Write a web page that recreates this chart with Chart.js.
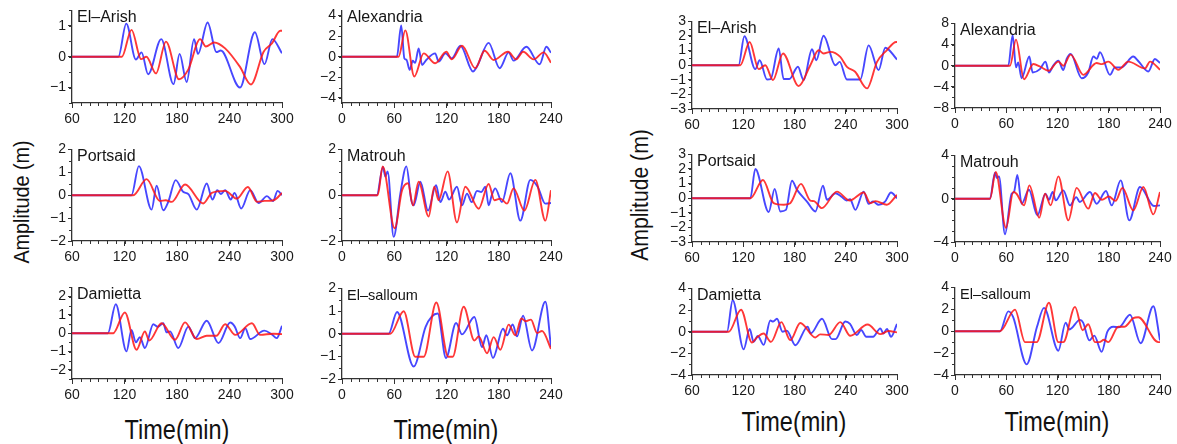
<!DOCTYPE html>
<html>
<head>
<meta charset="utf-8">
<title>Tide gauge comparison</title>
<script src="https://cdn.jsdelivr.net/npm/chart.js@4.4.1/dist/chart.umd.min.js"></script>
<style>
  body { margin:0; background:#fff; width:1177px; height:444px; position:relative; overflow:hidden;
         font-family:"Liberation Sans", Arial, Helvetica, sans-serif; color:#111; }
  canvas { position:absolute; }
  .xt { position:absolute; font-size:27px; white-space:nowrap; transform:translate(-50%,-50%) scaleX(0.87); }
  .yt { position:absolute; white-space:nowrap; transform:translate(-50%,-50%) rotate(-90deg) scaleX(0.9); }
</style>
</head>
<body>

<div class="yt" style="left:22px;top:202px;font-size:22px">Amplitude (m)</div>
<div class="yt" style="left:640px;top:195px;font-size:23.5px">Amplitude (m)</div>
<div class="xt" style="left:177px;top:430px">Time(min)</div>
<div class="xt" style="left:446px;top:430px">Time(min)</div>
<div class="xt" style="left:794px;top:422px">Time(min)</div>
<div class="xt" style="left:1057px;top:422px">Time(min)</div>

<script>
/* ─── tick labels ─── */
const xTicksLate  = [60, 120, 180, 240, 300];
const xTicksEarly = [0, 60, 120, 180, 240];

/* ─── left group (blue / red series) ─── */
const arishL_bt = [60,113,122,133,139.5,147,162,176,183,191,199.5,204,215,225,230,252,269,280,289,300];
const arishL_by = [0,0,1.07,-0.09,0.14,-0.57,0.57,-0.89,0.09,-0.82,0.57,0.09,1.11,0.15,0.2,-1.0,0.79,-0.24,0.57,0.11];
const arishL_rt = [60,117,128,139,145,156,167.4,182.3,193,206.4,213,222.4,235,252,264.5,279,288.5,298,300];
const arishL_ry = [0,0,0.87,-0.08,0.0,-0.54,0.49,-0.73,-0.41,0.57,0.33,0.46,0.27,-0.33,-0.9,0.16,0.43,0.84,0.84];

const alexL_bt = [0,63,68,71.6,74,77.7,81.2,84,88,92,97,107,111,118.7,126,136,150.4,155,168.4,181,191.4,197,211.7,227,234.7,240];
const alexL_by = [0,0,3.04,-0.16,-0.3,-1.28,-0.4,-0.6,0.8,-0.8,-0.3,0.32,-0.48,0.32,-0.16,1.06,-1.44,-0.96,1.34,-1.12,0.42,-0.38,0.96,-0.74,0.96,0.38];
const alexL_rt = [0,65,72.7,83,93.8,107,119.8,126,137.8,153,163.8,174,190.6,200,208,220,231.6,240];
const alexL_ry = [0,0,2.56,-1.92,0.32,-0.64,0.48,-0.26,1.06,-1.12,0.58,-0.32,0.48,-0.26,0.48,-0.26,0.42,-0.58];

const portL_bt = [60,128,136.4,151,156.7,164.3,170,178.5,187,193,202.6,214,220.5,226,230,235,241.5,245.7,253.4,263.7,273.3,282.8,289.7,295,300];
const portL_by = [0,0,1.27,-0.63,0.41,-0.66,-0.29,0.66,0.15,0.05,-0.63,0.51,-0.19,0.22,0.05,0.22,-0.19,0.1,-0.58,0.22,-0.34,-0.04,-0.26,0.19,0.0];
const portL_rt = [60,130,145.2,160.5,167,174,189.2,210,219.8,235,248.4,261,271.4,280,290.5,300];
const portL_ry = [0,0,0.7,-0.25,-0.22,-0.29,0.47,-0.36,0.1,0.19,-0.15,0.36,-0.29,-0.25,-0.22,0.1];

const matL_bt = [0,40,47,49.8,52.4,59.3,67,73.9,79.6,82.3,90,98.8,108,113,118.7,123,132,137.8,143.5,149,155,160,164.6,168.4,172,176,183.7,193.3,204.8,216.3,224.7,233.5,240];
const matL_by = [0,0,1.23,0.81,1.04,-1.82,0.07,1.26,-0.22,-0.44,0.59,-0.67,0.44,-0.3,0.15,-0.19,0.37,-0.44,0.07,-0.3,0.19,0.14,0.37,-0.44,0.0,0.3,-0.3,0.96,-1.11,0.67,0.37,-0.37,-0.34];
const matL_rt = [0,41,46.7,60.5,69,75.8,81.5,88,99.5,106,111,121.3,132,141.6,157,168.4,175,182,189.5,197,209.4,222,233.5,240];
const matL_ry = [0,0,1.26,-1.44,0.22,0.52,-0.44,0.59,-0.93,0.37,-0.22,1.04,-1.19,0.37,-0.59,0.49,-0.22,-0.15,-0.37,0.3,-0.67,0.67,-1.11,0.22];

const damL_bt = [60,101,110,122.3,128,133,137.6,143.3,152.9,158,164.3,168,172,181.5,193,197,200.6,214,227.4,240.8,246,252.2,258,263.7,279.8,288,294,300];
const damL_by = [0,0,1.58,-0.99,0.18,-0.5,-0.22,-0.81,0.49,0.35,0.54,0.05,0.1,-0.81,0.36,0.05,-0.27,0.68,-0.54,0.58,0.36,-0.27,0.27,-0.32,0.14,-0.05,-0.27,0.4];
const damL_rt = [60,107,120.4,133.8,143.3,148.3,162.4,177.7,189.2,202.6,214,225,235,246.5,265.6,275,290,300];
const damL_ry = [0,0,1.13,-0.9,0.09,-0.4,0.54,-0.36,0.59,-0.32,-0.14,-0.14,0.49,-0.09,0.54,-0.09,-0.03,-0.05];

const sallL_bt = [0,53.6,63.2,82.3,96,103,109.9,119.4,131,137.8,152,160.8,165.7,173.4,184.9,189.5,196,201,207.9,218.2,233.5,240];
const sallL_by = [0,0,0.96,-1.45,0.3,0.75,0.89,-1.07,0.47,-0.03,0.74,-0.59,-0.07,-1.07,0.22,-0.07,0.41,-0.12,0.79,-0.74,1.41,-0.59];
const sallL_rt = [0,55.5,70.8,84.2,93.8,108.3,122,127,139.7,152,157,166.5,174.2,181.8,191.4,199,206,211,217,224,229.7,240];
const sallL_ry = [0,0,0.99,-1.02,-1.02,1.38,-1.02,-1.02,1.19,-0.3,-0.12,-0.86,-0.15,-0.71,0.4,-0.07,0.67,0.55,0.62,0.03,0.12,-0.67];

/* ─── right group ─── */
const arishR_bt = [60,114.6,121.3,134.1,139.2,147.8,152,161.5,167.3,174,184,190.7,200.5,205.5,214,227.8,232.9,241.4,257,266.8,278.5,286.3,300];
const arishR_by = [0,0,1.98,-0.27,0.34,-0.98,-0.95,1.14,-0.95,-0.95,-0.11,-1.02,1.09,0.34,2.02,0.0,0.23,-0.98,-0.98,1.36,-0.34,1.2,0.39];
const arishR_rt = [60,116.6,127.5,138,145.8,154.8,166.5,184.9,198.5,208.3,214,222,233.6,241.4,251,264.9,276.6,288,299,300];
const arishR_ry = [0,0,1.59,-0.27,0.0,-1.02,0.8,-1.43,0.0,1.02,0.8,0.91,0.57,-0.11,-0.45,-1.59,0.23,1.02,1.59,1.59];

const alexR_bt = [0,62.4,67.5,71.4,74,78,87,90.9,99.5,106,110,115,121,126.8,130.7,135.4,148.3,156,162,166,169.7,181.4,187.3,195,208.7,215,226.3,234,240];
const alexR_by = [0,0,5.77,-0.32,0.6,-2.37,1.73,-1.28,-0.64,0.77,-1.28,0.0,0.96,-0.83,1.28,2.24,-2.37,-1.28,1.73,1.3,2.56,-1.73,-0.32,-0.32,1.73,0.8,-1.09,1.28,0.51];
const alexR_rt = [0,64.4,71.4,80.8,91.7,100,109.3,121,126.8,135.4,150.2,165.8,172,179.5,191.2,202.9,222.4,228.3,240];
const alexR_ry = [0,0,4.94,-2.56,0.32,-0.2,-0.96,0.77,0.0,2.1,-1.73,0.51,0.3,0.77,-0.77,0.77,-0.51,0.77,-0.77];

const portR_bt = [60,128.3,134.1,149.8,156.8,163.4,170,177,183,194.6,204.4,213.4,218,227.8,235,241,245,251.2,261,266.8,272,278.5,286,293,300];
const portR_by = [0,0,2.0,-0.95,0.64,-0.91,-0.8,1.2,0.57,-0.23,-0.91,0.86,-0.11,0.34,0.11,-0.16,-0.07,-0.8,0.45,-0.39,-0.23,-0.45,-0.23,0.39,0.0];
const portR_rt = [60,128.3,143.1,155.6,167.3,175,187.6,198.5,203,212,229.7,244.6,261,268.8,275,288,300];
const portR_ry = [0,0,1.25,-0.34,-0.45,-0.34,0.98,-0.16,-0.2,-0.68,0.45,-0.16,0.39,-0.34,-0.2,-0.45,0.23];

const matR_bt = [0,41,46.8,49,51.5,58.5,66.3,69,73,78,86.6,96.4,106,110,114.3,118,126.8,134.6,142,146,158,165.8,176.8,183.4,194,204,216.6,233,240];
const matR_by = [0,0,2.4,1.9,2.06,-3.29,0.46,0.6,2.2,-0.46,0.83,-1.54,0.46,-0.1,0.62,-0.15,0.77,-0.62,0.15,-0.3,0.62,-0.46,0.71,-0.62,1.69,-2.0,1.08,-0.68,-0.62];
const matR_rt = [0,41,47.6,59.7,68.3,72,80.8,87,98.7,105.4,112,121,132.7,142.4,156,163.9,172,180,188,196,208.7,220.5,232.2,240];
const matR_ry = [0,0,2.46,-2.68,0.62,0.46,-0.62,1.23,-1.75,0.46,-0.62,2.06,-2.0,1.0,-0.92,0.52,-0.1,0.2,-0.2,1.0,-1.08,1.08,-1.45,0.62];

const damR_bt = [60,101,107.6,120.5,127.5,132.2,137,143.9,151.7,155,159.5,166,171,181,195.4,199,212.2,223.9,228,239.5,245,253,258,264,272,280.5,284,288.3,293,300];
const damR_by = [0,0,2.9,-1.63,0.25,-0.94,-0.4,-1.22,1.03,0.94,1.19,0.0,0.1,-1.25,0.47,-0.16,1.19,-0.69,-0.69,0.94,0.72,-0.31,0.16,-0.47,-0.47,0.31,-0.16,0.25,-0.47,0.72];
const damR_rt = [60,103,117.4,130.2,136,143.9,152.5,164.6,175,186.8,204.4,210,220,233.6,245.3,265.6,280.5,290,300];
const damR_ry = [0,0,2.03,-1.0,-0.53,-0.16,-0.94,0.88,-0.78,0.81,-0.53,-0.25,-0.3,0.88,-0.38,0.66,-0.22,0.06,-0.06];

const sallR_bt = [0,52.7,62.4,68,83.9,96,104.2,121,129.5,134,146.3,150,157.3,163,171.7,178.3,185.3,192,204.9,217.3,232.2,240];
const sallR_by = [0,0,1.81,1.3,-3.03,0.4,2.13,-1.78,0.78,0.16,1.03,0.78,-0.84,-0.4,-1.88,-0.06,0.41,0.35,1.5,-1.1,2.28,-0.84];
const sallR_rt = [0,52.7,70.2,82,95.6,110,121,126.8,140.5,149.4,156,163.9,169,174.4,179.5,191.2,198,208.7,214.6,238,240];
const sallR_ry = [0,0,1.97,-1.0,-1.0,2.6,-1.0,-1.0,2.22,0.09,0.63,-1.0,-1.0,-0.78,-1.0,0.41,0.4,1.19,1.28,-1.0,-1.0];

/* ─── y tick labels per panel ─── */
const yTicks1   = [-1, 0, 1];
const yTicks4_2 = [-4, -2, 0, 2, 4];
const yTicks2_1 = [-2, -1, 0, 1, 2];
const yTicks2_2 = [-2, 0, 2];
const yTicks3   = [-3, -2, -1, 0, 1, 2, 3];
const yTicks8   = [-8, -4, 0, 4, 8];
const yTicks4_4 = [-4, 0, 4];

/* ─── panel layout: plot box [left, right, top, bottom] in page px ─── */
const panels = [
  { name:"El–Arish",   box:[72,282,10,103],   x:[60,300], xt:xTicksLate,  y:[-1.5,1.5], yt:yTicks1,   minor:0.5, b:[arishL_bt,arishL_by], r:[arishL_rt,arishL_ry] },
  { name:"Alexandria", box:[342,551,10,103],  x:[0,240],  xt:xTicksEarly, y:[-4.5,4.5], yt:yTicks4_2, minor:1,   b:[alexL_bt,alexL_by],   r:[alexL_rt,alexL_ry] },
  { name:"Portsaid",   box:[72,282,149,241],  x:[60,300], xt:xTicksLate,  y:[-2,2],     yt:yTicks2_1, minor:0.5, b:[portL_bt,portL_by],   r:[portL_rt,portL_ry] },
  { name:"Matrouh",    box:[342,551,149,241], x:[0,240],  xt:xTicksEarly, y:[-2,2],     yt:yTicks2_2, minor:0.5, b:[matL_bt,matL_by],     r:[matL_rt,matL_ry] },
  { name:"Damietta",   box:[72,282,287,379],  x:[60,300], xt:xTicksLate,  y:[-2.5,2.5], yt:yTicks2_1, minor:0.5, b:[damL_bt,damL_by],     r:[damL_rt,damL_ry] },
  { name:"El–salloum", box:[342,551,288,379], x:[0,240],  xt:xTicksEarly, y:[-2,2],     yt:yTicks2_1, minor:0.5, b:[sallL_bt,sallL_by],   r:[sallL_rt,sallL_ry], small:true },

  { name:"El–Arish",   box:[692,897,21,109],  x:[60,300], xt:xTicksLate,  y:[-3,3], yt:yTicks3,   minor:0.5, b:[arishR_bt,arishR_by], r:[arishR_rt,arishR_ry] },
  { name:"Alexandria", box:[955,1160,23,108], x:[0,240],  xt:xTicksEarly, y:[-8,8], yt:yTicks8,   minor:2,   b:[alexR_bt,alexR_by],   r:[alexR_rt,alexR_ry] },
  { name:"Portsaid",   box:[692,897,154,242], x:[60,300], xt:xTicksLate,  y:[-3,3], yt:yTicks3,   minor:0.5, b:[portR_bt,portR_by],   r:[portR_rt,portR_ry] },
  { name:"Matrouh",    box:[955,1160,155,242],x:[0,240],  xt:xTicksEarly, y:[-4,4], yt:yTicks4_4, minor:1,   b:[matR_bt,matR_by],     r:[matR_rt,matR_ry] },
  { name:"Damietta",   box:[692,897,288,375], x:[60,300], xt:xTicksLate,  y:[-4,4], yt:yTicks4_2, minor:1,   b:[damR_bt,damR_by],     r:[damR_rt,damR_ry] },
  { name:"El–salloum", box:[955,1160,287,375],x:[0,240],  xt:xTicksEarly, y:[-4,4], yt:yTicks4_2, minor:1,   b:[sallR_bt,sallR_by],   r:[sallR_rt,sallR_ry], small:true },
];

const AXIS = "#333";
const FONT = '"Liberation Sans", Arial, Helvetica, sans-serif';
const Y_W = 40, X_H = 30, PAD_T = 10, PAD_R = 16;

/* minor ticks + station name, drawn on the canvas */
const panelDecor = {
  id: "panelDecor",
  afterDraw(chart, args, opts) {
    const ctx = chart.ctx, xs = chart.scales.x, ys = chart.scales.y, a = chart.chartArea;
    ctx.save();
    ctx.strokeStyle = AXIS;
    ctx.lineWidth = 1;
    ctx.beginPath();
    for (let v = xs.min; v <= xs.max + 1e-6; v += 10) {
      const px = Math.round(xs.getPixelForValue(v)) + 0.5;
      ctx.moveTo(px, a.bottom); ctx.lineTo(px, a.bottom + 3);
    }
    for (let v = Math.ceil(ys.min / opts.minor) * opts.minor; v <= ys.max + 1e-6; v += opts.minor) {
      const py = Math.round(ys.getPixelForValue(v)) + 0.5;
      ctx.moveTo(a.left, py); ctx.lineTo(a.left - 3, py);
    }
    ctx.stroke();
    ctx.fillStyle = "#151515";
    ctx.font = (opts.small ? "14.5px " : "16px ") + FONT;
    ctx.textBaseline = "alphabetic";
    ctx.fillText(opts.name, a.left + 5, a.top + 12);
    ctx.restore();
  }
};

const minus = v => String(v).replace("-", "\u2212");
const pts = (t, y) => t.map((v, i) => ({ x: v, y: y[i] }));

function axisCommon(fit) {
  return {
    type: "linear",
    afterFit: fit,
    grid: { drawOnChartArea: false, tickLength: 5, color: AXIS, lineWidth: 1 },
    border: { color: AXIS, width: 1.3 },
    ticks: { font: { family: FONT, size: 14 }, color: "#1a1a1a", autoSkip: false, maxRotation: 0, callback: minus },
  };
}

function makePanel(p) {
  const [pl, pr, pt, pb] = p.box;
  const cv = document.createElement("canvas");
  const w = (pr - pl) + Y_W + PAD_R, h = (pb - pt) + PAD_T + X_H;
  cv.width = w; cv.height = h;
  cv.style.left = (pl - Y_W) + "px";
  cv.style.top = (pt - PAD_T) + "px";
  cv.style.width = w + "px"; cv.style.height = h + "px";
  document.body.appendChild(cv);

  const xAx = axisCommon(s => { s.height = X_H; });
  xAx.min = p.x[0]; xAx.max = p.x[1];
  xAx.afterBuildTicks = s => { s.ticks = p.xt.map(v => ({ value: v })); };
  xAx.ticks.padding = 3;

  const yAx = axisCommon(s => { s.width = Y_W; });
  yAx.min = p.y[0]; yAx.max = p.y[1];
  yAx.afterBuildTicks = s => { s.ticks = p.yt.map(v => ({ value: v })); };
  yAx.grid.tickLength = 4;
  yAx.ticks.padding = 2;

  new Chart(cv, {
    type: "line",
    data: {
      datasets: [
        { label: "red",  data: pts(p.r[0], p.r[1]), borderColor: "rgba(255,20,20,0.85)" },
        { label: "blue", data: pts(p.b[0], p.b[1]), borderColor: "rgba(25,25,255,0.8)" },
      ],
    },
    options: {
      responsive: false, animation: false, devicePixelRatio: 1,
      layout: { padding: { top: PAD_T, right: PAD_R, left: 0, bottom: 0 } },
      elements: {
        point: { radius: 0 },
        line: { borderWidth: 1.9, cubicInterpolationMode: "monotone", borderJoinStyle: "round", fill: false },
      },
      plugins: {
        legend: { display: false }, tooltip: { enabled: false },
        panelDecor: { name: p.name, minor: p.minor, small: !!p.small },
      },
      scales: { x: xAx, y: yAx },
    },
    plugins: [panelDecor],
  });
}

panels.forEach(makePanel);
</script>
</body>
</html>
